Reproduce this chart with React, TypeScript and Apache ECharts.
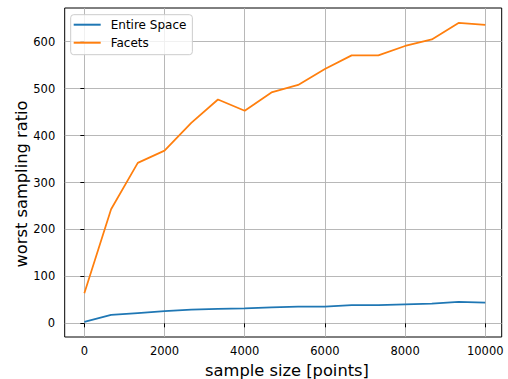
import React, { useEffect, useRef } from "react";
import * as echarts from "echarts";

const sampleSizes = [0, 667, 1333, 2000, 2667, 3333, 4000, 4667, 5333, 6000, 6667, 7333, 8000, 8667, 9333, 10000];
const entireSpace = [3, 18, 22, 26, 29, 31, 32, 34, 35.5, 35.5, 39, 39, 40.5, 42, 45.5, 44];
const facets = [64, 243, 342, 368, 427, 477, 453, 492, 508, 542, 571, 571, 591, 605, 640, 636];
const xTicks = [0, 2000, 4000, 6000, 8000, 10000];
const yTicks = [0, 100, 200, 300, 400, 500, 600];
const xTitle = "sample size [points]";
const yTitle = "worst sampling ratio";

const FONT = "DejaVu Sans";

export default function App() {
  const ref = useRef<HTMLDivElement>(null);
  useEffect(() => {
    if (!ref.current) return;
    const chart = echarts.init(ref.current, undefined, { renderer: "svg" });
    const pair = (ys: number[]) => sampleSizes.map((x, i) => [x, ys[i]]);
    chart.setOption({
      animation: false,
      backgroundColor: "#ffffff",
      textStyle: { fontFamily: FONT },
      grid: {
        left: 64.7,
        right: 6.3,
        top: 8,
        bottom: 42,
        containLabel: false,
        outerBoundsMode: "none",
        show: true,
        borderColor: "#000000",
        borderWidth: 1,
        backgroundColor: "transparent",
      },
      graphic: [
        {
          type: "text",
          x: 287,
          y: 370,
          style: {
            text: xTitle,
            fontFamily: FONT,
            fontSize: 16.3,
            fill: "#000",
            align: "center",
            verticalAlign: "middle",
          },
        },
        {
          type: "text",
          x: 21,
          y: 184,
          rotation: Math.PI / 2,
          style: {
            text: yTitle,
            fontFamily: FONT,
            fontSize: 16.3,
            fill: "#000",
            align: "center",
            verticalAlign: "middle",
          },
        },
      ],
      legend: {
        orient: "vertical",
        left: 70.7,
        top: 14.7,
        itemWidth: 27,
        itemHeight: 2,
        itemGap: 4,
        icon: "rect",
        padding: [3, 6, 5, 3],
        backgroundColor: "rgba(255,255,255,0.8)",
        borderColor: "#cccccc",
        borderWidth: 1,
        borderRadius: 3,
        textStyle: { fontFamily: FONT, fontSize: 12, color: "#000", lineHeight: 14, padding: [0, 0, 0, 5] },
        data: ["Entire Space", "Facets"],
      },
      xAxis: {
        type: "value",
        min: -490,
        max: 10410,
        axisLine: { show: false },
        axisTick: { show: true, inside: false, length: 4, lineStyle: { color: "#000", width: 1 }, customValues: xTicks },
        axisLabel: {
          fontFamily: FONT,
          fontSize: 11.5,
          color: "#000",
          margin: 8,
          customValues: xTicks,
          formatter: (v: number) => String(v),
        },
        splitLine: { show: true, lineStyle: { color: "#b0b0b0", width: 0.9 } },
      },
      yAxis: {
        type: "value",
        min: -29.1,
        max: 671.9,
        axisLine: { show: false },
        axisTick: { show: true, inside: false, length: 4, lineStyle: { color: "#000", width: 1 }, customValues: yTicks },
        axisLabel: {
          fontFamily: FONT,
          fontSize: 11.5,
          color: "#000",
          margin: 9.5,
          customValues: yTicks,
          formatter: (v: number) => String(v),
        },
        splitLine: { show: true, lineStyle: { color: "#b0b0b0", width: 0.9 } },
      },
      series: [
        {
          name: "Entire Space",
          type: "line",
          data: pair(entireSpace),
          showSymbol: false,
          symbol: "none",
          color: "#1f77b4",
          lineStyle: { color: "#1f77b4", width: 1.75 },
        },
        {
          name: "Facets",
          type: "line",
          data: pair(facets),
          showSymbol: false,
          symbol: "none",
          color: "#ff7f0e",
          lineStyle: { color: "#ff7f0e", width: 1.75 },
        },
      ],
    });
    return () => chart.dispose();
  }, []);
  return <div ref={ref} style={{ position: "fixed", left: 0, top: 0, width: 508, height: 379 }} />;
}
